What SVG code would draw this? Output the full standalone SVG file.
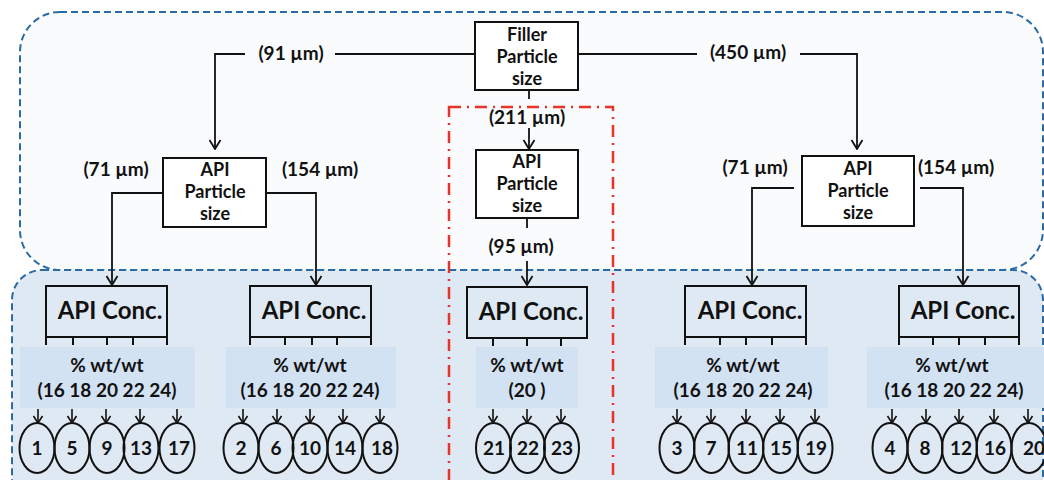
<svg xmlns="http://www.w3.org/2000/svg" width="1044" height="480" viewBox="0 0 1044 480">
<style>
text{font-family:Lato,"Open Sans","Liberation Sans",sans-serif;font-weight:700;fill:#111;text-anchor:middle}
.lbl{font-size:19px}
.bt{font-size:18px}
.box{fill:#fff;stroke:#111;stroke-width:2}
.conc{fill:none;stroke:#111;stroke-width:2}
.ct{font-size:24px}
.pct{fill:#d3e2f2}
.pt{font-size:19px}
.ell{fill:none;stroke:#111;stroke-width:2}
.num{font-size:19px}
.tick{stroke:#111;stroke-width:2}
.con{fill:none;stroke:#111;stroke-width:1.8}
.arr{marker-end:url(#ah)}
.sarr{fill:none;stroke:#111;stroke-width:1.6;marker-end:url(#sah)}
.region{stroke:#2a6aa6;stroke-width:2;stroke-dasharray:7 4}
</style>
<defs>
<marker id="ah" markerUnits="userSpaceOnUse" viewBox="-1 -7 11 14" markerWidth="11" markerHeight="14" refX="9" refY="0" orient="auto">
<path d="M0,-5.5 L9,0 L0,5.5" fill="none" stroke="#111" stroke-width="1.8"/>
</marker>
<marker id="sah" markerUnits="userSpaceOnUse" viewBox="-1 -6 9 12" markerWidth="9" markerHeight="12" refX="7" refY="0" orient="auto">
<path d="M0,-4.5 L7,0 L0,4.5" fill="none" stroke="#111" stroke-width="1.6"/>
</marker>
</defs>
<rect width="1044" height="480" fill="#fff"/>
<g id="regions">
<rect class="region" x="20" y="12" width="1023" height="258" rx="40" fill="#fafbfd"/>
<rect class="region" x="12" y="270" width="1031" height="250" rx="30" fill="#dfe9f4"/>
<rect x="449" y="107" width="164" height="400" fill="none" stroke="#e8332a" stroke-width="2.5" stroke-dasharray="12 6 2 6"/>
</g>
<g id="pct-bands">
<rect class="pct" x="20" y="347" width="175" height="61"/>
<rect class="pct" x="226" y="347" width="170" height="61"/>
<rect class="pct" x="476" y="347" width="102" height="61"/>
<rect class="pct" x="655" y="347" width="173" height="61"/>
<rect class="pct" x="867" y="347" width="177" height="61"/>
</g>
<g id="connectors">
<path class="con" d="M475,54 H335"/>
<path class="con arr" d="M245,54 H215 V149"/>
<path class="con" d="M578,54 H697"/>
<path class="con arr" d="M800,54 H857 V149"/>
<path class="con" d="M529,90 V99"/>
<path class="con arr" d="M529,128 V149"/>
<path class="con" d="M527,218 V228"/>
<path class="con arr" d="M527,261 V285"/>
<path class="con arr" d="M163,193 H112 V285"/>
<path class="con arr" d="M266,193 H316 V285"/>
<path class="con arr" d="M794,188 H752 V285"/>
<path class="con arr" d="M920,188 H963 V285"/>
<path class="sarr" d="M38,409 V423"/><path class="sarr" d="M72,409 V423"/><path class="sarr" d="M106,409 V423"/><path class="sarr" d="M140,409 V423"/><path class="sarr" d="M177,409 V423"/>
<path class="sarr" d="M243,409 V423"/><path class="sarr" d="M277,409 V423"/><path class="sarr" d="M310,409 V423"/><path class="sarr" d="M343,409 V423"/><path class="sarr" d="M380,409 V423"/>
<path class="sarr" d="M493,409 V423"/><path class="sarr" d="M527,409 V423"/><path class="sarr" d="M561,409 V423"/>
<path class="sarr" d="M677,409 V423"/><path class="sarr" d="M711,409 V423"/><path class="sarr" d="M746,409 V423"/><path class="sarr" d="M780,409 V423"/><path class="sarr" d="M815,409 V423"/>
<path class="sarr" d="M892,409 V423"/><path class="sarr" d="M926,409 V423"/><path class="sarr" d="M959,409 V423"/><path class="sarr" d="M994,409 V423"/><path class="sarr" d="M1028,409 V423"/>
</g>
<g id="edge-labels">
<text class="lbl" x="291" y="60">(91 µm)</text>
<text class="lbl" x="748" y="59">(450 µm)</text>
<text class="lbl" x="527" y="124">(211 µm)</text>
<text class="lbl" x="521" y="253">(95 µm)</text>
<text class="lbl" x="116" y="176">(71 µm)</text>
<text class="lbl" x="320" y="176">(154 µm)</text>
<text class="lbl" x="755" y="174">(71 µm)</text>
<text class="lbl" x="956" y="174">(154 µm)</text>
</g>
<g id="filler">
<rect class="box" x="475" y="22" width="103" height="68"/>
<text class="bt" x="527" y="41">Filler</text>
<text class="bt" x="527" y="63">Particle</text>
<text class="bt" x="527" y="85">size</text>
</g>
<g id="api-ps-left">
<rect class="box" x="163" y="158" width="103" height="69"/>
<text class="bt" x="215" y="176">API</text>
<text class="bt" x="215" y="198">Particle</text>
<text class="bt" x="215" y="220">size</text>
</g>
<g id="api-ps-mid">
<rect class="box" x="476" y="150" width="102" height="68"/>
<text class="bt" x="527" y="168">API</text>
<text class="bt" x="527" y="190">Particle</text>
<text class="bt" x="527" y="212">size</text>
</g>
<g id="api-ps-right">
<rect class="box" x="802" y="156" width="112" height="70"/>
<text class="bt" x="858" y="175">API</text>
<text class="bt" x="858" y="197">Particle</text>
<text class="bt" x="858" y="219">size</text>
</g>
<g id="conc1">
<rect class="conc" x="46" y="286" width="121" height="51"/>
<text class="ct" x="110" y="319">API Conc.</text>
<path class="tick" d="M46,337 V345 M73,337 V345 M107,337 V345 M133,337 V345 M167,337 V345"/>
<text class="pt" x="107" y="372">% wt/wt</text>
<text class="pt" x="107" y="397">(16 18 20 22 24)</text>
</g>
<g id="conc2">
<rect class="conc" x="250" y="286" width="121" height="51"/>
<text class="ct" x="314" y="319">API Conc.</text>
<path class="tick" d="M250,337 V345 M285,337 V345 M312,337 V345 M337,337 V345 M371,337 V345"/>
<text class="pt" x="310" y="372">% wt/wt</text>
<text class="pt" x="310" y="397">(16 18 20 22 24)</text>
</g>
<g id="conc-mid">
<rect class="conc" x="467" y="287" width="120" height="51"/>
<text class="ct" x="531" y="320">API Conc.</text>
<path class="tick" d="M493,338 V346 M527,338 V346 M561,338 V346"/>
<text class="pt" x="527" y="372">% wt/wt</text>
<text class="pt" x="527" y="397">(20 )</text>
</g>
<g id="conc3">
<rect class="conc" x="685" y="286" width="121" height="51"/>
<text class="ct" x="750" y="319">API Conc.</text>
<path class="tick" d="M685,337 V345 M720,337 V345 M746,337 V345 M772,337 V345 M806,337 V345"/>
<text class="pt" x="743" y="372">% wt/wt</text>
<text class="pt" x="743" y="397">(16 18 20 22 24)</text>
</g>
<g id="conc4">
<rect class="conc" x="899" y="286" width="120" height="51"/>
<text class="ct" x="963" y="319">API Conc.</text>
<path class="tick" d="M899,337 V345 M933,337 V345 M959,337 V345 M985,337 V345 M1019,337 V345"/>
<text class="pt" x="952" y="372">% wt/wt</text>
<text class="pt" x="954" y="397">(16 18 20 22 24)</text>
</g>
<g id="formulations">
<g id="f1"><ellipse class="ell" cx="37" cy="448" rx="17.5" ry="25"/><text class="num" x="37" y="455">1</text></g>
<g id="f5"><ellipse class="ell" cx="72" cy="448" rx="17.5" ry="25"/><text class="num" x="72" y="455">5</text></g>
<g id="f9"><ellipse class="ell" cx="107" cy="448" rx="17.5" ry="25"/><text class="num" x="107" y="455">9</text></g>
<g id="f13"><ellipse class="ell" cx="141" cy="448" rx="17.5" ry="25"/><text class="num" x="141" y="455">13</text></g>
<g id="f17"><ellipse class="ell" cx="177" cy="448" rx="17.5" ry="25"/><text class="num" x="179" y="455">17</text></g>
<g id="f2"><ellipse class="ell" cx="241" cy="448" rx="17.5" ry="25"/><text class="num" x="241" y="455">2</text></g>
<g id="f6"><ellipse class="ell" cx="276" cy="448" rx="17.5" ry="25"/><text class="num" x="276" y="455">6</text></g>
<g id="f10"><ellipse class="ell" cx="310" cy="448" rx="17.5" ry="25"/><text class="num" x="310" y="455">10</text></g>
<g id="f14"><ellipse class="ell" cx="345" cy="448" rx="17.5" ry="25"/><text class="num" x="345" y="455">14</text></g>
<g id="f18"><ellipse class="ell" cx="380" cy="448" rx="17.5" ry="25"/><text class="num" x="382" y="455">18</text></g>
<g id="f21"><ellipse class="ell" cx="493.5" cy="448" rx="17.5" ry="25"/><text class="num" x="494" y="455">21</text></g>
<g id="f22"><ellipse class="ell" cx="527.5" cy="448" rx="17.5" ry="25"/><text class="num" x="528" y="455">22</text></g>
<g id="f23"><ellipse class="ell" cx="561.5" cy="448" rx="17.5" ry="25"/><text class="num" x="562" y="455">23</text></g>
<g id="f3"><ellipse class="ell" cx="677" cy="448" rx="17.5" ry="25"/><text class="num" x="677" y="455">3</text></g>
<g id="f7"><ellipse class="ell" cx="711.5" cy="448" rx="17.5" ry="25"/><text class="num" x="711" y="455">7</text></g>
<g id="f11"><ellipse class="ell" cx="746" cy="448" rx="17.5" ry="25"/><text class="num" x="747" y="455">11</text></g>
<g id="f15"><ellipse class="ell" cx="780.5" cy="448" rx="17.5" ry="25"/><text class="num" x="781" y="455">15</text></g>
<g id="f19"><ellipse class="ell" cx="815" cy="448" rx="17.5" ry="25"/><text class="num" x="816" y="455">19</text></g>
<g id="f4"><ellipse class="ell" cx="890" cy="448" rx="17.5" ry="25"/><text class="num" x="890" y="455">4</text></g>
<g id="f8"><ellipse class="ell" cx="925" cy="448" rx="17.5" ry="25"/><text class="num" x="925" y="455">8</text></g>
<g id="f12"><ellipse class="ell" cx="959.5" cy="448" rx="17.5" ry="25"/><text class="num" x="961" y="455">12</text></g>
<g id="f16"><ellipse class="ell" cx="994" cy="448" rx="17.5" ry="25"/><text class="num" x="995" y="455">16</text></g>
<g id="f20"><ellipse class="ell" cx="1029" cy="448" rx="17.5" ry="25"/><text class="num" x="1034" y="455">20</text></g>
</g>
</svg>
